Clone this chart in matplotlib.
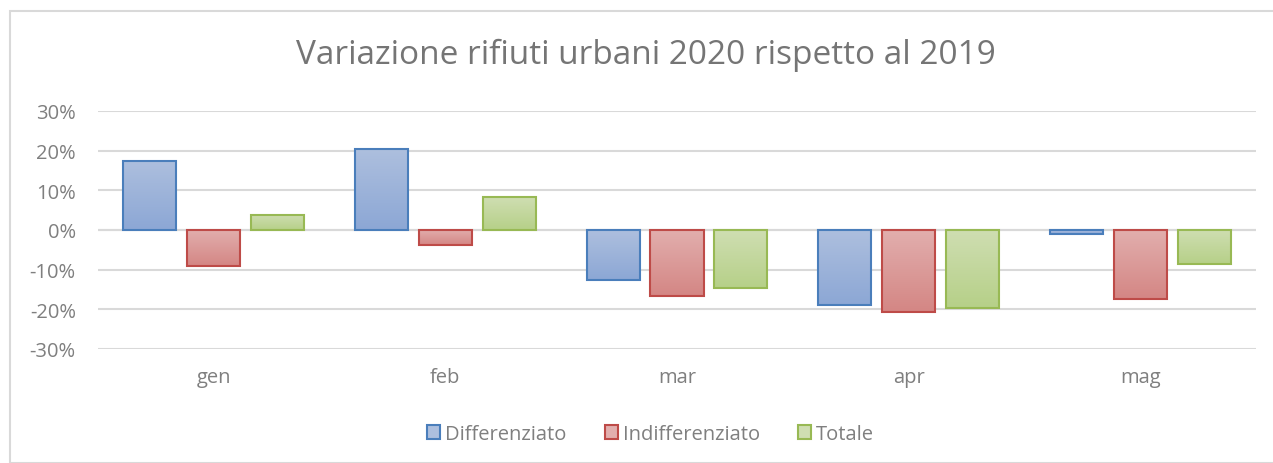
import numpy as np
import matplotlib
matplotlib.use("Agg")
import matplotlib.pyplot as plt
from matplotlib.patches import Rectangle, Patch
from matplotlib.ticker import PercentFormatter

plt.rcParams['font.family'] = ['Open Sans', 'DejaVu Sans']
plt.rcParams['axes.unicode_minus'] = False

months = ["gen", "feb", "mar", "apr", "mag"]
differenziato = [0.174, 0.204, -0.126, -0.189, -0.010]
indifferenziato = [-0.091, -0.038, -0.167, -0.207, -0.174]
totale = [0.038, 0.083, -0.146, -0.197, -0.086]

series = [
    ("Differenziato", differenziato, "#4a7ebb", "#adbfde", "#8ca7d5"),
    ("Indifferenziato", indifferenziato, "#be4b48", "#e2afae", "#d48684"),
    ("Totale", totale, "#98b954", "#cfdeb2", "#b6d088"),
]
text_col = "#7f7f7f"

fig = plt.figure(figsize=(12.73, 4.64), dpi=100)
fig.patches.append(Rectangle((10 / 1273, 0), 1.0, 1 - 12 / 464, transform=fig.transFigure,
                             fill=False, edgecolor="#d9d9d9", linewidth=1.5))
ax = fig.add_axes([98 / 1273, 1 - 350 / 464, (1256 - 98) / 1273, (350 - 112) / 464])

x = np.arange(len(months))
step = 0.276
width = 0.229

for i, (name, vals, edge, light, dark) in enumerate(series):
    bars = ax.bar(x + (i - 1) * step, vals, width, color="none", edgecolor=edge,
                  linewidth=1.5, zorder=3)
    # vertical gradient fill, lighter at the top
    grad = np.linspace(0, 1, 256).reshape(-1, 1)
    c1 = np.array(matplotlib.colors.to_rgb(light))
    c2 = np.array(matplotlib.colors.to_rgb(dark))
    img = c1 + (c2 - c1) * grad[:, :, None]
    for b in bars:
        x0, w = b.get_x(), b.get_width()
        y0, h = b.get_y(), b.get_height()
        top = max(y0, y0 + h)
        bot = min(y0, y0 + h)
        im = ax.imshow(img, extent=[x0, x0 + w, bot, top], aspect="auto", zorder=2,
                       interpolation="bilinear")
        im.set_clip_path(b)

ax.set_xlim(-0.5, len(months) - 0.5)
ax.set_ylim(-0.3, 0.3)
ax.set_yticks(np.arange(-0.3, 0.31, 0.1))
ax.yaxis.set_major_formatter(PercentFormatter(1.0, decimals=0))
ax.set_xticks(x)
ax.set_xticklabels(months)
ax.grid(axis="y", color="#d9d9d9", linewidth=1.5, zorder=0)
ax.set_axisbelow(True)
for s in ax.spines.values():
    s.set_visible(False)
ax.tick_params(axis="both", length=0, colors=text_col, labelsize=14.5)
ax.tick_params(axis="x", pad=13)
ax.tick_params(axis="y", pad=16)
ax.axhline(0, color="#d9d9d9", linewidth=1.5, zorder=1)

fig.text(0.5075, 1 - 55 / 464, "Variazione rifiuti urbani 2020 rispetto al 2019",
         ha="center", va="center", fontsize=24, color="#757575")

handles = [Patch(facecolor=s[3], edgecolor=s[2], linewidth=1.5, label=s[0]) for s in series]
fig.legend(handles=handles, loc="center", bbox_to_anchor=(0.511, 1 - 435 / 464), ncol=3,
           frameon=False, fontsize=14.5, labelcolor=text_col, handlelength=0.65,
           handleheight=0.65, handletextpad=0.25, columnspacing=1.9)

fig.savefig("out.png", dpi=100)
